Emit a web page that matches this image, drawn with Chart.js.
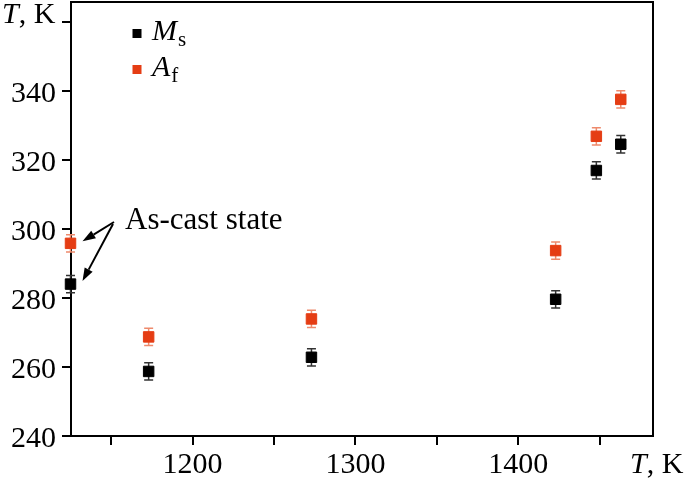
<!DOCTYPE html>
<html>
<head>
<meta charset="utf-8">
<script src="https://cdn.jsdelivr.net/npm/chart.js@4/dist/chart.umd.min.js"></script>
<style>
  html, body { margin: 0; padding: 0; background: #fff; }
  #wrap { width: 685px; height: 478px; }
</style>
</head>
<body>
<div id="wrap"><canvas id="c" width="685" height="478"></canvas></div>
<script>
// ---- data ----
const temps = [1125, 1173, 1273, 1423, 1448, 1463];
const msValues = [284.0, 258.7, 262.8, 279.6, 316.9, 324.5];
const afValues = [295.8, 268.7, 273.9, 293.7, 326.8, 337.5];
const msErrors = [2.5, 2.5, 2.5, 2.5, 2.5, 2.5];
const afErrors = [2.5, 2.5, 2.5, 2.5, 2.5, 2.5];
const seriesNames = [["M", "s"], ["A", "f"]];
const xTicks = [1150, 1200, 1250, 1300, 1350, 1400, 1450];
const yTicks = [240, 260, 280, 300, 320, 340, 360];
const axisLabel = ["T", ", K"];
const noteText = "As-cast state";

const RED = '#e53d14';
const BLACK = '#000000';
const FONT = '"Liberation Serif", "Times New Roman", serif';

function toPoints(xs, ys) { return xs.map((x, i) => ({ x: x, y: ys[i] })); }

const errorBars = {
  id: 'errorBars',
  beforeDatasetsDraw(chart) {
    const ctx = chart.ctx;
    const ys = chart.scales.y, xs = chart.scales.x;
    const sets = [
      { vals: msValues, errs: msErrors, color: '#333333' },
      { vals: afValues, errs: afErrors, color: '#ee8a6c' }
    ];
    ctx.save();
    ctx.lineWidth = 1.5;
    sets.forEach(s => {
      ctx.strokeStyle = s.color;
      temps.forEach((t, i) => {
        const px = xs.getPixelForValue(t);
        const top = ys.getPixelForValue(s.vals[i] + s.errs[i]);
        const bot = ys.getPixelForValue(s.vals[i] - s.errs[i]);
        ctx.beginPath();
        ctx.moveTo(px, top); ctx.lineTo(px, bot);
        ctx.moveTo(px - 4.5, top); ctx.lineTo(px + 4.5, top);
        ctx.moveTo(px - 4.5, bot); ctx.lineTo(px + 4.5, bot);
        ctx.stroke();
      });
    });
    ctx.restore();
  }
};

function arrow(ctx, x0, y0, x1, y1) {
  const ang = Math.atan2(y1 - y0, x1 - x0);
  const L = 13, W = 4.5;
  const bx = x1 - L * Math.cos(ang), by = y1 - L * Math.sin(ang);
  ctx.beginPath();
  ctx.moveTo(x0, y0); ctx.lineTo(bx, by);
  ctx.stroke();
  ctx.beginPath();
  ctx.moveTo(x1, y1);
  ctx.lineTo(bx + W * Math.sin(ang), by - W * Math.cos(ang));
  ctx.lineTo(bx - W * Math.sin(ang), by + W * Math.cos(ang));
  ctx.closePath();
  ctx.fill();
}

const decorations = {
  id: 'decorations',
  afterDraw(chart) {
    const ctx = chart.ctx;
    const a = chart.chartArea;
    ctx.save();
    // frame
    ctx.strokeStyle = '#000';
    ctx.lineWidth = 2;
    ctx.beginPath();
    ctx.moveTo(a.left, a.top); ctx.lineTo(a.right, a.top); ctx.lineTo(a.right, a.bottom);
    ctx.stroke();

    ctx.fillStyle = '#000';
    ctx.textBaseline = 'alphabetic';
    // y-axis title at 360 tick
    ctx.font = 'italic 30px ' + FONT;
    ctx.fillText(axisLabel[0], 2, 23);
    let w = ctx.measureText(axisLabel[0]).width;
    ctx.font = '30px ' + FONT;
    ctx.fillText(axisLabel[1], 2 + w, 23);
    // x-axis title
    ctx.font = 'italic 30px ' + FONT;
    ctx.fillText(axisLabel[0], 630, 473);
    w = ctx.measureText(axisLabel[0]).width;
    ctx.font = '30px ' + FONT;
    ctx.fillText(axisLabel[1], 630 + w, 473);

    // legend
    const colors = [BLACK, RED];
    const rows = [40, 76];
    seriesNames.forEach((nm, i) => {
      ctx.fillStyle = colors[i];
      ctx.fillRect(132.5, rows[i] - 11, 9, 9);
      ctx.fillStyle = '#000';
      ctx.font = 'italic 30px ' + FONT;
      ctx.fillText(nm[0], 152, rows[i]);
      const mw = ctx.measureText(nm[0]).width;
      ctx.font = '21px ' + FONT;
      ctx.fillText(nm[1], 152 + mw + 1, rows[i] + 6);
    });

    // annotation
    ctx.font = '31px ' + FONT;
    ctx.fillText(noteText, 125, 229);
    const xs = chart.scales.x, ys = chart.scales.y;
    const rx = xs.getPixelForValue(temps[0]);
    const ryA = ys.getPixelForValue(afValues[0]);
    const ryM = ys.getPixelForValue(msValues[0]);
    ctx.strokeStyle = '#000';
    ctx.lineWidth = 2;
    arrow(ctx, 114, 222, rx + 12, ryA - 2);
    arrow(ctx, 113, 224, rx + 12, ryM - 3);
    ctx.restore();
  }
};

new Chart(document.getElementById('c'), {
  type: 'scatter',
  data: {
    datasets: [
      {
        label: 'Ms',
        data: toPoints(temps, msValues),
        backgroundColor: BLACK, borderColor: BLACK, borderWidth: 1,
        pointStyle: 'rect', pointRadius: 7.4, clip: false
      },
      {
        label: 'Af',
        data: toPoints(temps, afValues),
        backgroundColor: RED, borderColor: RED, borderWidth: 1,
        pointStyle: 'rect', pointRadius: 7.4, clip: false
      }
    ]
  },
  options: {
    responsive: false,
    animation: false,
    devicePixelRatio: 1,
    layout: { autoPadding: false, padding: { top: 2, right: 32, left: 0, bottom: 0 } },
    plugins: { legend: { display: false }, tooltip: { enabled: false } },
    scales: {
      x: {
        type: 'linear',
        min: 1125.3, max: 1482.8,
        afterBuildTicks: s => { s.ticks = xTicks.map(v => ({ value: v })); },
        afterFit: s => { s.height = 42; s.paddingLeft = 0; s.paddingRight = 0; },
        grid: { drawOnChartArea: false, drawTicks: true, tickLength: 9, color: '#000', lineWidth: 2 },
        border: { display: true, color: '#000', width: 2 },
        ticks: {
          color: '#000', font: { family: FONT, size: 30 }, padding: 2,
          maxRotation: 0, autoSkip: false,
          callback: v => (v % 100 === 0 ? String(v) : '')
        }
      },
      y: {
        type: 'linear',
        min: 240, max: 365.7,
        afterBuildTicks: s => { s.ticks = yTicks.map(v => ({ value: v })); },
        afterFit: s => { s.width = 71; s.paddingTop = 0; s.paddingBottom = 0; },
        grid: { drawOnChartArea: false, drawTicks: true, tickLength: 9, color: '#000', lineWidth: 2 },
        border: { display: true, color: '#000', width: 2 },
        ticks: {
          color: '#000', font: { family: FONT, size: 30 }, padding: 6,
          labelOffset: 3, autoSkip: false,
          callback: v => (v === 360 ? '' : String(v))
        }
      }
    }
  },
  plugins: [errorBars, decorations]
});
</script>
</body>
</html>
